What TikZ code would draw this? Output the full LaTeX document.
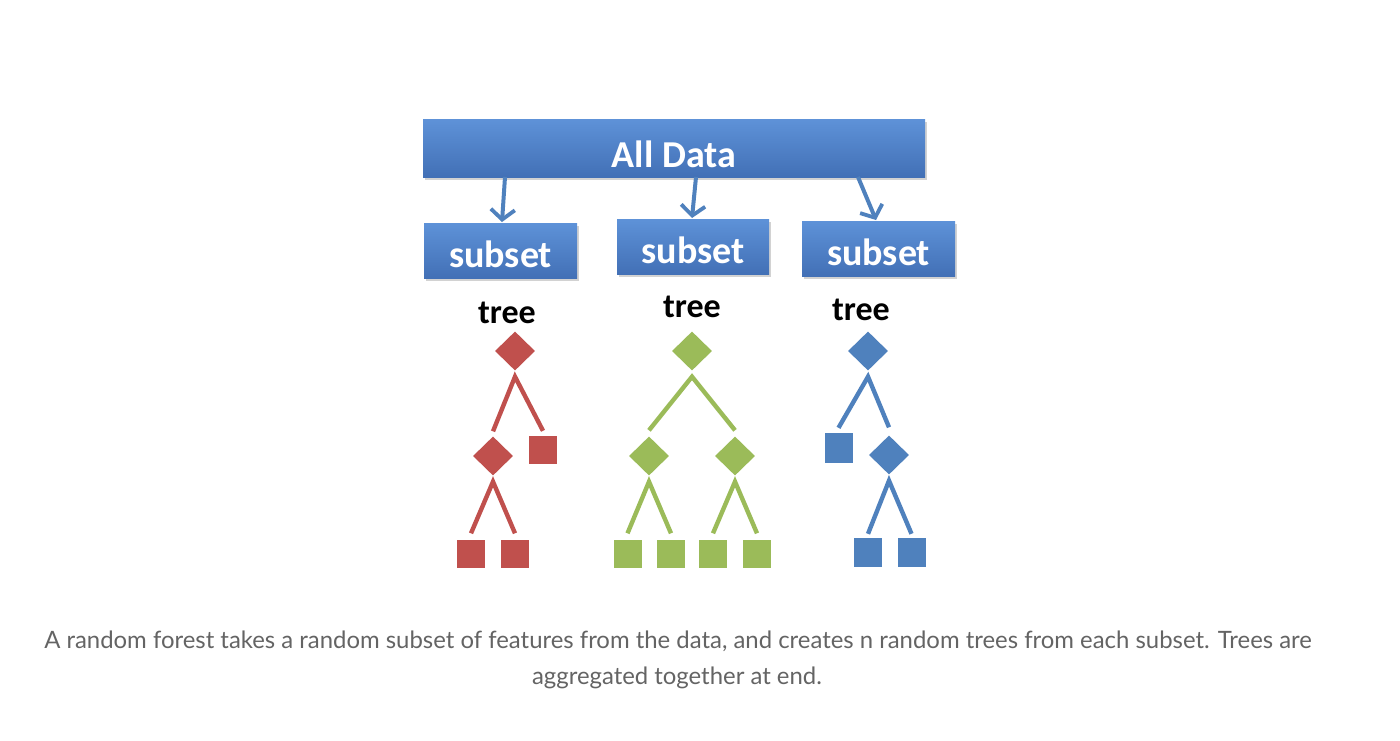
\documentclass[tikz,border=0pt]{standalone}
\usepackage{fontspec}
\setmainfont{Carlito}
\newfontfamily\capfont{Lato}
\usetikzlibrary{shapes.geometric,arrows.meta,shadows}
\definecolor{redc}{RGB}{192,80,77}
\definecolor{greenc}{RGB}{155,187,89}
\definecolor{bluec}{RGB}{79,129,189}
\definecolor{boxtop}{RGB}{94,146,216}
\definecolor{boxbot}{RGB}{66,112,182}
\definecolor{arrowc}{RGB}{79,129,189}
\definecolor{capc}{RGB}{100,100,100}
\begin{document}
\begin{tikzpicture}[x=1pt,y=-1pt,
  bluebox/.style={rectangle, inner sep=0pt, top color=boxtop, bottom color=boxbot, draw=none,
    drop shadow={shadow xshift=1.5pt, shadow yshift=-3pt, opacity=0.35}},
  boxtext/.style={text=white, font=\bfseries\fontsize{38}{40}\selectfont, anchor=base, inner sep=0pt},
  treelabel/.style={text=black, font=\bfseries\fontsize{34}{36}\selectfont, anchor=base, inner sep=0pt},
  dia/.style={diamond, aspect=1, minimum width=40pt, minimum height=39pt, inner sep=0pt, draw=none, fill=#1},
  leaf/.style={rectangle, minimum width=28pt, minimum height=28pt, inner sep=0pt, draw=none, fill=#1},
  edge/.style={draw=#1, line width=4.4pt},
  flow/.style={draw=arrowc, line width=4pt, -{Straight Barb[length=10pt, width=24pt, line width=3.8pt]}}
]
\useasboundingbox[fill=white] (0,0) rectangle (1400,740);

% top box
\node[bluebox, minimum width=502pt, minimum height=58pt] (all) at (674,148) {};
\node[boxtext] (alltxt) at (674,167) {All Data};

% subset boxes
\node[bluebox, minimum width=153pt, minimum height=55pt] (s1) at (500.5,250.5) {};
\node[boxtext] (s1t) at (500.5,267) {subset};
\node[bluebox, minimum width=152pt, minimum height=55pt] (s2) at (693,246.5) {};
\node[boxtext] (s2t) at (693,263) {subset};
\node[bluebox, minimum width=153pt, minimum height=55pt] (s3) at (878.5,248.5) {};
\node[boxtext] (s3t) at (878.5,265) {subset};

% arrows
\coordinate (a1) at (505,177);
\coordinate (a2) at (696,177);
\coordinate (a3) at (858,177);
\draw[flow] (a1) -- (502,222) coordinate (e1);
\draw[flow] (a2) -- (692,218) coordinate (e2);
\draw[flow] (a3) -- (876,220) coordinate (e3);

% tree labels
\node[treelabel] (t1) at (507,323) {tree};
\node[treelabel] (t2) at (692,317) {tree};
\node[treelabel] (t3) at (861,320) {tree};

% red tree
\node[dia=redc] (r1) at (515,351) {};
\node[dia=redc] (r2) at (493,456) {};
\node[leaf=redc] (r3) at (543,450) {};
\node[leaf=redc] (r4) at (471,553.5) {};
\node[leaf=redc] (r5) at (515,553.5) {};
\draw[edge=redc] ([yshift=5pt]r2.north) -- ([yshift=-6pt]r1.south) -- ([yshift=5pt]r3.north);
\draw[edge=redc] ([yshift=6pt]r4.north) -- ([yshift=-6pt]r2.south) -- ([yshift=6pt]r5.north);

% green tree
\node[dia=greenc] (g1) at (692,351) {};
\node[dia=greenc] (g2) at (649,456) {};
\node[dia=greenc] (g3) at (735,456) {};
\node[leaf=greenc] (g4) at (627.5,553.5) {};
\node[leaf=greenc] (g5) at (671,553.5) {};
\node[leaf=greenc] (g6) at (713,553.5) {};
\node[leaf=greenc] (g7) at (757,553.5) {};
\draw[edge=greenc] ([yshift=6pt]g2.north) -- ([yshift=-6pt]g1.south) -- ([yshift=6pt]g3.north);
\draw[edge=greenc] ([yshift=6pt]g4.north) -- ([yshift=-6pt]g2.south) -- ([yshift=6pt]g5.north);
\draw[edge=greenc] ([yshift=6pt]g6.north) -- ([yshift=-6pt]g3.south) -- ([yshift=6pt]g7.north);

% blue tree
\node[dia=bluec] (b1) at (868,351) {};
\node[leaf=bluec, minimum height=30pt] (b2) at (838.5,448) {};
\node[dia=bluec] (b3) at (889,455) {};
\node[leaf=bluec, minimum height=29pt] (b4) at (868,552.5) {};
\node[leaf=bluec, minimum height=29pt] (b5) at (911.5,552.5) {};
\draw[edge=bluec] ([yshift=5pt]b2.north) -- ([yshift=-6pt]b1.south) -- ([yshift=8pt]b3.north);
\draw[edge=bluec] ([yshift=4pt]b4.north) -- ([yshift=-6pt]b3.south) -- ([yshift=4pt]b5.north);

% caption
\node[anchor=base, inner sep=0pt, text=capc, font=\capfont\fontsize{23.9}{28}\selectfont] (cap1) at (678,648)
  {A random forest takes a random subset of features from the data, and creates n random trees from each subset. Trees are};
\node[anchor=base, inner sep=0pt, text=capc, font=\capfont\fontsize{23.9}{28}\selectfont] (cap2) at (677,684)
  {aggregated together at end.};
\end{tikzpicture}
\end{document}
